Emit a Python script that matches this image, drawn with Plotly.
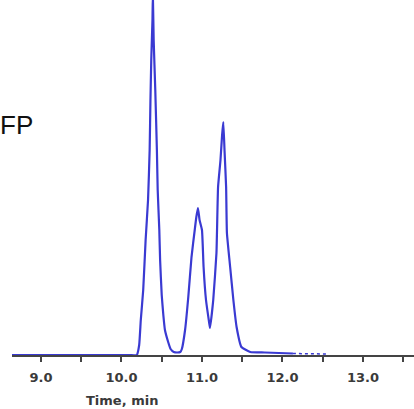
import plotly.graph_objects as go

# Chromatogram trace (time in min, relative intensity)
time_min = [8.64, 10.10, 10.19, 10.22, 10.24, 10.27, 10.30, 10.33, 10.35, 10.36, 10.37,
            10.385, 10.39, 10.40, 10.42, 10.44, 10.45, 10.47, 10.48, 10.50, 10.52,
            10.54, 10.58, 10.61, 10.65, 10.69, 10.73, 10.75, 10.79, 10.83, 10.87,
            10.91, 10.93, 10.95, 10.97, 11.00, 11.02, 11.05, 11.09, 11.10, 11.14,
            11.18, 11.20, 11.23, 11.25, 11.265, 11.28, 11.30, 11.31, 11.35, 11.39,
            11.43, 11.49, 11.60, 11.78, 12.13]
intensity = [0, 0, 0, 10, 35, 65, 115, 155, 205, 255, 295,
             335, 360, 315, 265, 205, 165, 125, 95, 60, 40,
             25, 13, 6, 3, 2.5, 3, 6, 25, 58, 98,
             125, 138, 147, 135, 125, 88, 55, 32, 27, 55,
             102, 168, 195, 220, 233, 205, 168, 122, 88, 55,
             28, 8, 3, 2.5, 1.5]

# dotted tail near the baseline
tail_time = [12.13, 12.55]
tail_intensity = [1.5, 1.0]

tick_vals = [9.0, 9.5, 10.0, 10.5, 11.0, 11.5, 12.0, 12.5, 13.0, 13.5]
tick_text = ["9.0", "", "10.0", "", "11.0", "", "12.0", "", "13.0", ""]

line_color = "#3a3ad2"

fig = go.Figure()
fig.add_trace(go.Scatter(x=time_min, y=intensity, mode="lines",
                         line=dict(color=line_color, width=2.2, shape="spline", smoothing=0.4),
                         hoverinfo="skip"))
fig.add_trace(go.Scatter(x=tail_time, y=tail_intensity, mode="lines",
                         line=dict(color=line_color, width=1.5, dash="dot"), hoverinfo="skip"))

fig.update_layout(
    width=414, height=409,
    margin=dict(l=12, r=0, t=0, b=54),
    paper_bgcolor="white", plot_bgcolor="white",
    showlegend=False,
    xaxis=dict(range=[8.64, 13.634], showgrid=False, zeroline=False,
               showline=True, linecolor="#444444", linewidth=1.5,
               ticks="outside", ticklen=5, tickwidth=1.5, tickcolor="#444444",
               tickvals=tick_vals, ticktext=tick_text,
               tickfont=dict(family="DejaVu Sans", size=13, color="#3a3a3a", weight="bold"),
               ticklabelstandoff=5),
    yaxis=dict(range=[0, 355], visible=False, showgrid=False, zeroline=False),
)

fig.add_annotation(text="Time, min", xref="paper", yref="paper",
                   x=(122 - 12) / 402, y=-(400 - 355) / 355,
                   showarrow=False, xanchor="center", yanchor="middle",
                   font=dict(family="DejaVu Sans", size=13, color="#3a3a3a", weight="bold"))
fig.add_annotation(text="FP", xref="paper", yref="paper",
                   x=-14 / 402, y=(355 - 125) / 355,
                   showarrow=False, xanchor="left", yanchor="middle",
                   font=dict(family="Arial", size=26, color="#111111"))

fig.write_html("out.html", config={"displayModeBar": False},
               post_script="document.body.style.margin='0';document.body.style.overflow='hidden';")
